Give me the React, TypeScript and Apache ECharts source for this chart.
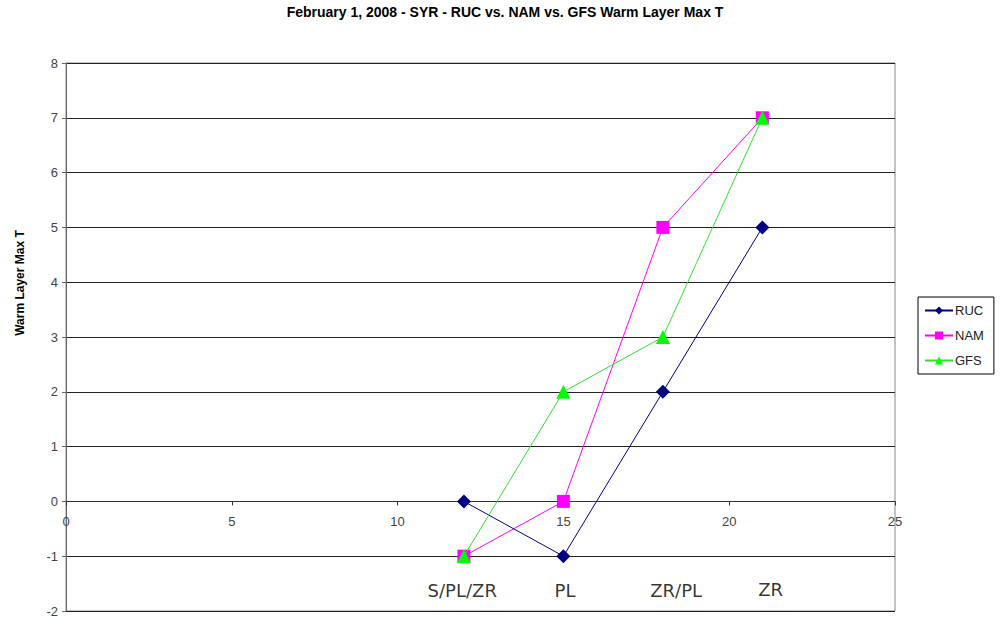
import React, { useEffect, useRef } from "react";
import * as echarts from "echarts";

const hours = [12, 15, 18, 21];
const ruc = [0, -1, 2, 5];
const nam = [-1, 0, 5, 7];
const gfs = [-1, 2, 3, 7];
const annotationText = ["S/PL/ZR", "PL", "ZR/PL", "ZR"];
const annotationX = [11.95, 15.05, 18.4, 21.25];
const annotationY = [-1.63, -1.63, -1.63, -1.6];

const pair = (xs: number[], ys: number[]) => xs.map((x, i) => [x, ys[i]]);

export default function App() {
  const ref = useRef<HTMLDivElement>(null);
  useEffect(() => {
    if (!ref.current) return;
    const chart = echarts.init(ref.current, null, { renderer: "svg" });
    const font = "'Liberation Sans', Arial, sans-serif";
    const plotHeight = 548;
    const yMin = -2;
    const yMax = 8;
    chart.setOption({
      animation: false,
      backgroundColor: "#fff",
      title: {
        text: "February 1, 2008 - SYR - RUC vs. NAM vs. GFS Warm Layer Max T",
        left: 500,
        textAlign: "center",
        top: 0,
        textStyle: { fontFamily: font, fontSize: 14, fontWeight: "bold", color: "#000" },
      },
      grid: {
        left: 66,
        right: 105,
        top: 63,
        bottom: 17,
        show: true,
        borderColor: "#888",
        borderWidth: 1,
      },
      legend: {
        orient: "vertical",
        left: 918,
        top: 297,
        data: ["RUC", "NAM", "GFS"],
        borderColor: "#000",
        borderWidth: 1,
        padding: [7, 10, 7, 6],
        itemGap: 12,
        itemWidth: 28,
        itemHeight: 10,
        textStyle: { fontFamily: font, fontSize: 13, color: "#222", padding: [0, 0, 0, -3] },
      },
      xAxis: {
        type: "value",
        min: 0,
        max: 25,
        interval: 5,
        offset: -plotHeight * (0 - yMin) / (yMax - yMin),
        axisLine: { onZero: false, lineStyle: { color: "#333", width: 1 } },
        axisTick: { show: true, length: 4, lineStyle: { color: "#333" } },
        axisLabel: { fontFamily: font, fontSize: 13, color: "#444", margin: 14 },
        splitLine: { show: false },
      },
      yAxis: {
        type: "value",
        min: yMin,
        max: yMax,
        interval: 1,
        name: "Warm Layer Max T",
        nameLocation: "middle",
        nameGap: 40,
        nameTextStyle: {
          fontFamily: font,
          fontSize: 12,
          fontWeight: "bold",
          color: "#000",
          padding: [0, 0, 0, 108],
        },
        axisLine: { show: true, lineStyle: { color: "#666", width: 1 } },
        axisTick: { show: true, length: 4, lineStyle: { color: "#666" } },
        axisLabel: { fontFamily: font, fontSize: 13, color: "#444", margin: 8 },
        splitLine: { show: true, lineStyle: { color: "#222", width: 1 } },
      },
      series: [
        {
          name: "RUC",
          type: "line",
          data: pair(hours, ruc),
          symbol: "diamond",
          symbolSize: 14,
          color: "#000080",
          lineStyle: { color: "#000080", width: 1 },
          itemStyle: { color: "#000080" },
          z: 4,
        },
        {
          name: "NAM",
          type: "line",
          data: pair(hours, nam),
          symbol: "rect",
          symbolSize: 13,
          color: "#ff00ff",
          lineStyle: { color: "#ff00ff", width: 1 },
          itemStyle: { color: "#ff00ff" },
          z: 3,
        },
        {
          name: "GFS",
          type: "line",
          data: pair(hours, gfs),
          symbol: "triangle",
          symbolSize: 14,
          color: "#00ff00",
          lineStyle: { color: "#33dd33", width: 1 },
          itemStyle: { color: "#00ff00" },
          z: 5,
        },
        {
          name: "annotations",
          type: "scatter",
          symbolSize: 0,
          silent: true,
          data: annotationText.map((t, i) => ({ value: [annotationX[i], annotationY[i]], name: t })),
          label: {
            show: true,
            position: "inside",
            formatter: (p: any) => p.name,
            fontFamily: "'DejaVu Sans', Verdana, sans-serif",
            fontSize: 18,
            color: "#000",
          },
        },
      ],
    });
    return () => chart.dispose();
  }, []);
  return (
    <div
      ref={ref}
      style={{ position: "fixed", left: 0, top: 0, width: 1000, height: 628 }}
    />
  );
}
